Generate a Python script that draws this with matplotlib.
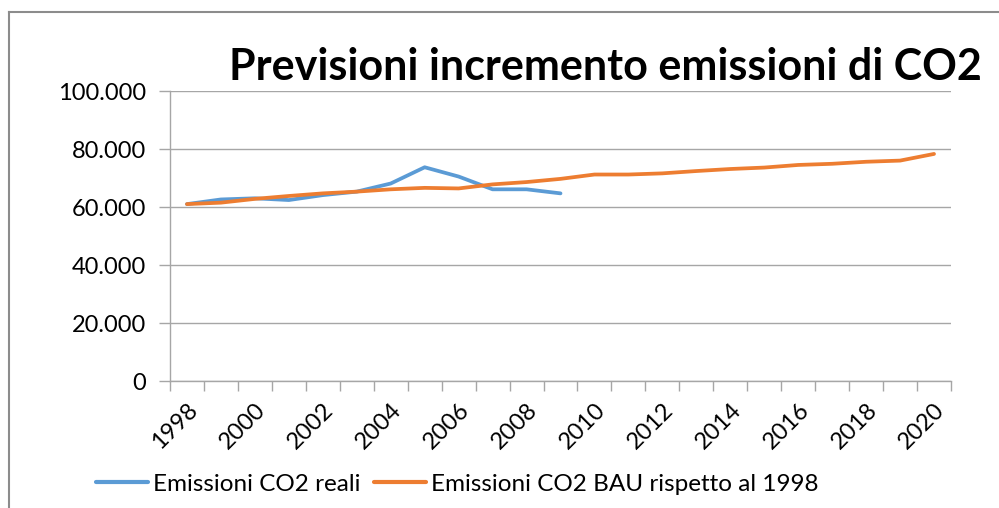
import matplotlib
matplotlib.use("Agg")
import matplotlib.pyplot as plt
from matplotlib.lines import Line2D
from matplotlib.ticker import FuncFormatter, FixedLocator

# ==============================================================
# Data (tonnellate CO2)
# ==============================================================
years = list(range(1998, 2021))
tick_years = [str(y) for y in range(1998, 2021, 2)]

emissioni_reali = [61000, 62600, 63000, 62400, 64100, 65300,
                   68100, 73700, 70500, 66100, 66100, 64700]
emissioni_bau = [61000, 61500, 62800, 63800, 64700, 65300, 66100, 66600,
                 66400, 67800, 68600, 69700, 71200, 71200, 71600, 72400,
                 73100, 73600, 74500, 74900, 75600, 76000, 78300]

BLUE = "#5B9BD5"
ORANGE = "#ED7D31"
GRID = "#A6A6A6"

plt.rcParams["font.family"] = ["Lato", "DejaVu Sans"]

# ==============================================================
# Figure
# ==============================================================
fig = plt.figure(figsize=(9.99, 5.08), dpi=100)
ax = fig.add_axes([170 / 999, 1 - 381 / 508, (951 - 170) / 999, (381 - 91) / 508])

x_reali = list(range(len(emissioni_reali)))
x_bau = list(range(len(emissioni_bau)))
ax.plot(x_reali, emissioni_reali, color=BLUE, lw=2.7, solid_capstyle="round",
        label="Emissioni CO2 reali")
ax.plot(x_bau, emissioni_bau, color=ORANGE, lw=2.7, solid_capstyle="round",
        label="Emissioni CO2 BAU rispetto al 1998")

ax.set_xlim(-0.5, len(years) - 0.5)
ax.set_ylim(0, 100000)
ax.set_yticks(range(0, 100001, 20000))
ax.yaxis.set_major_formatter(FuncFormatter(lambda v, p: f"{v:,.0f}".replace(",", ".")))
ax.yaxis.grid(True, color=GRID, lw=1)
ax.set_axisbelow(True)

# labels on categories, tick marks between them
ax.set_xticks(range(0, len(years), 2))
ax.set_xticklabels(tick_years, rotation=45, ha="right", rotation_mode="anchor")
ax.xaxis.set_minor_locator(FixedLocator([i - 0.5 for i in range(len(years) + 1)]))
ax.tick_params(axis="x", which="major", length=0, pad=13, labelsize=17)
ax.tick_params(axis="x", which="minor", length=7, color=GRID, width=1)
ax.tick_params(axis="y", length=8, color=GRID, width=1, labelsize=17, pad=9)

for side in ["top", "right"]:
    ax.spines[side].set_visible(False)
for side in ["left", "bottom"]:
    ax.spines[side].set_color(GRID)
    ax.spines[side].set_linewidth(1)

# ==============================================================
# Title, legend, chart frame
# ==============================================================
fig.text(229 / 999, 1 - 80 / 508, "Previsioni incremento emissioni di CO2",
         fontsize=31, fontweight="bold", ha="left", va="baseline")

leg = fig.legend(loc="center left", bbox_to_anchor=(96 / 999, 1 - 484 / 508), ncol=2,
                 frameon=False, fontsize=17.5, handlelength=2.15, handletextpad=0.2,
                 columnspacing=0.55, borderaxespad=0, borderpad=0)
for h in leg.get_lines():
    h.set_linewidth(3)

fig.add_artist(Line2D([8.5 / 999, 8.5 / 999], [0, 1 - 12 / 508], color="#8C8C8C", lw=1.5))
fig.add_artist(Line2D([8.5 / 999, 1], [1 - 12 / 508, 1 - 12 / 508], color="#8C8C8C", lw=1.5))

fig.savefig("out.png", dpi=100)
